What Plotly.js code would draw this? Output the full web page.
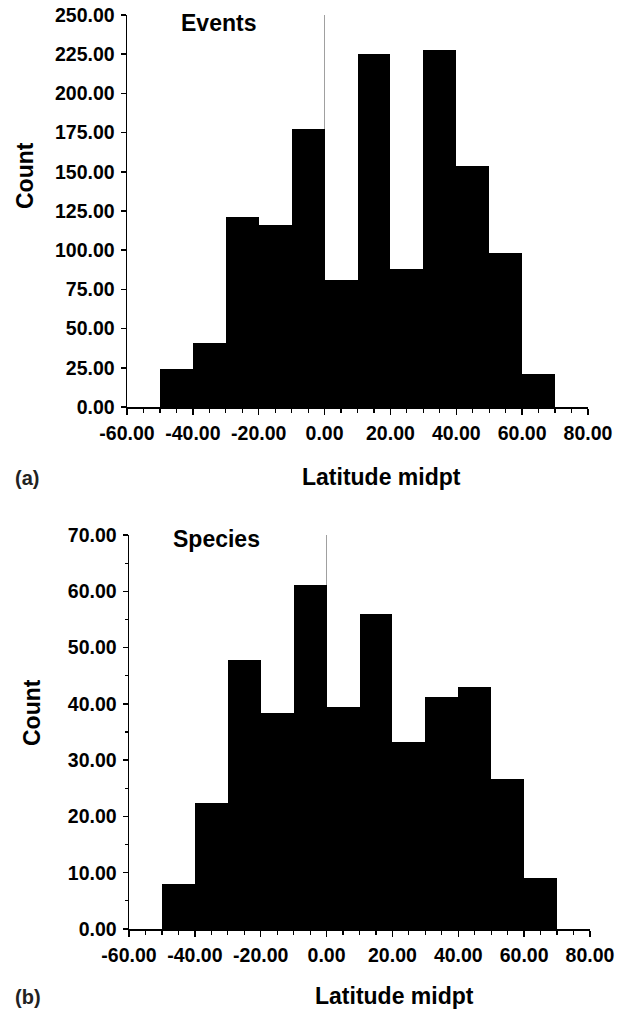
<!DOCTYPE html>
<html>
<head>
<meta charset="utf-8">
<script src="https://cdn.plot.ly/plotly-3.0.1.min.js"></script>
<style>
html,body{margin:0;padding:0;background:#fff;}
#chart{width:633px;height:1010px;}
</style>
</head>
<body>
<div id="chart"></div>
<script>
// Bin centres of latitude midpoints (10-degree bins from -50 to 70)
var binCenters = [-45, -35, -25, -15, -5, 5, 15, 25, 35, 45, 55, 65];
var binWidth = 10;
// (a) Events counts per bin
var eventsCounts = [24, 41, 121, 116, 177, 81, 225, 88, 228, 154, 98, 21];
// (b) Species counts per bin
var speciesCounts = [8, 22.4, 47.8, 38.3, 61.1, 39.5, 56, 33.2, 41.3, 43, 26.6, 9.1];
// Tick values
var xTickVals = [-60, -40, -20, 0, 20, 40, 60, 80];
var yTickValsA = [0, 25, 50, 75, 100, 125, 150, 175, 200, 225, 250];
var yTickValsB = [0, 10, 20, 30, 40, 50, 60, 70];

function fmt(v){ return v.toFixed(2); }

var W = 633, H = 1010;
function px(x){return x / W;}
function py(y){return 1 - y / H;}

var FONT = 'Liberation Sans, Arial, Helvetica, sans-serif';
var TICKFONT = {family:FONT, size:19.5, color:'#000', weight:'bold'};
var TITLEFONT = {family:FONT, size:23, color:'#000', weight:'bold'};

var widths = binCenters.map(function(){return binWidth;});

var traces = [
  {type:'bar', x:binCenters, y:eventsCounts, width:widths, xaxis:'x', yaxis:'y',
   marker:{color:'#000', line:{width:0}}, hoverinfo:'x+y', showlegend:false},
  {type:'bar', x:binCenters, y:speciesCounts, width:widths, xaxis:'x2', yaxis:'y2',
   marker:{color:'#000', line:{width:0}}, hoverinfo:'x+y', showlegend:false}
];

function xAxis(domain, anchor){
  return {
    domain: domain, anchor: anchor, range:[-60, 80],
    tickmode:'array', tickvals:xTickVals, ticktext:xTickVals.map(fmt),
    ticks:'outside', ticklen:6, tickwidth:1.5, tickcolor:'#000',
    ticklabelstandoff:2,
    minor:{dtick:5, tick0:-60, ticks:'outside', ticklen:4, tickwidth:1.2, tickcolor:'#000', showgrid:false},
    showline:true, linecolor:'#000', linewidth:1.5,
    showgrid:false, zeroline:true, zerolinecolor:'#a0a0a0', zerolinewidth:1,
    tickfont:TICKFONT,
    fixedrange:true
  };
}

function yAxis(domain, anchor, range, vals, minor){
  var a = {
    domain:domain, anchor:anchor, range:range,
    tickmode:'array', tickvals:vals, ticktext:vals.map(fmt),
    ticks:'outside', ticklen:5, tickwidth:1.5, tickcolor:'#000',
    ticklabelstandoff:2,
    showline:true, linecolor:'#000', linewidth:1.5,
    showgrid:false, zeroline:false,
    tickfont:TICKFONT,
    fixedrange:true
  };
  if (minor) a.minor = {dtick:minor, tick0:0, ticks:'outside', ticklen:3, tickwidth:1.2, tickcolor:'#000', showgrid:false};
  return a;
}

function ann(text, x, y, font, angle){
  var a = {text:text, x:px(x), y:py(y), xref:'paper', yref:'paper', xanchor:'center', yanchor:'middle', showarrow:false, font:font};
  if (angle) a.textangle = angle;
  return a;
}

var LABELFONT = {family:FONT, size:20, color:'#222', weight:'bold'};

var layout = {
  width: W, height: H,
  margin:{l:0, r:0, t:0, b:0, pad:0},
  paper_bgcolor:'#fff', plot_bgcolor:'#fff',
  bargap:0,
  showlegend:false,
  xaxis: xAxis([px(127), px(588)], 'y'),
  yaxis: yAxis([py(407), py(15)], 'x', [0, 250], yTickValsA, null),
  xaxis2: xAxis([px(129), px(590)], 'y2'),
  yaxis2: yAxis([py(929), py(535)], 'x2', [0, 70], yTickValsB, 5),
  annotations: [
    ann('Events', 218, 23, TITLEFONT),
    ann('Count', 25, 176, TITLEFONT, -90),
    ann('Latitude midpt', 381, 477, TITLEFONT),
    ann('(a)', 27, 478, LABELFONT),
    ann('Species', 216, 539, TITLEFONT),
    ann('Count', 32, 713, TITLEFONT, -90),
    ann('Latitude midpt', 394, 996, TITLEFONT),
    ann('(b)', 28, 997, LABELFONT)
  ]
};

Plotly.newPlot('chart', traces, layout, {displayModeBar:false, staticPlot:true});
</script>
</body>
</html>
